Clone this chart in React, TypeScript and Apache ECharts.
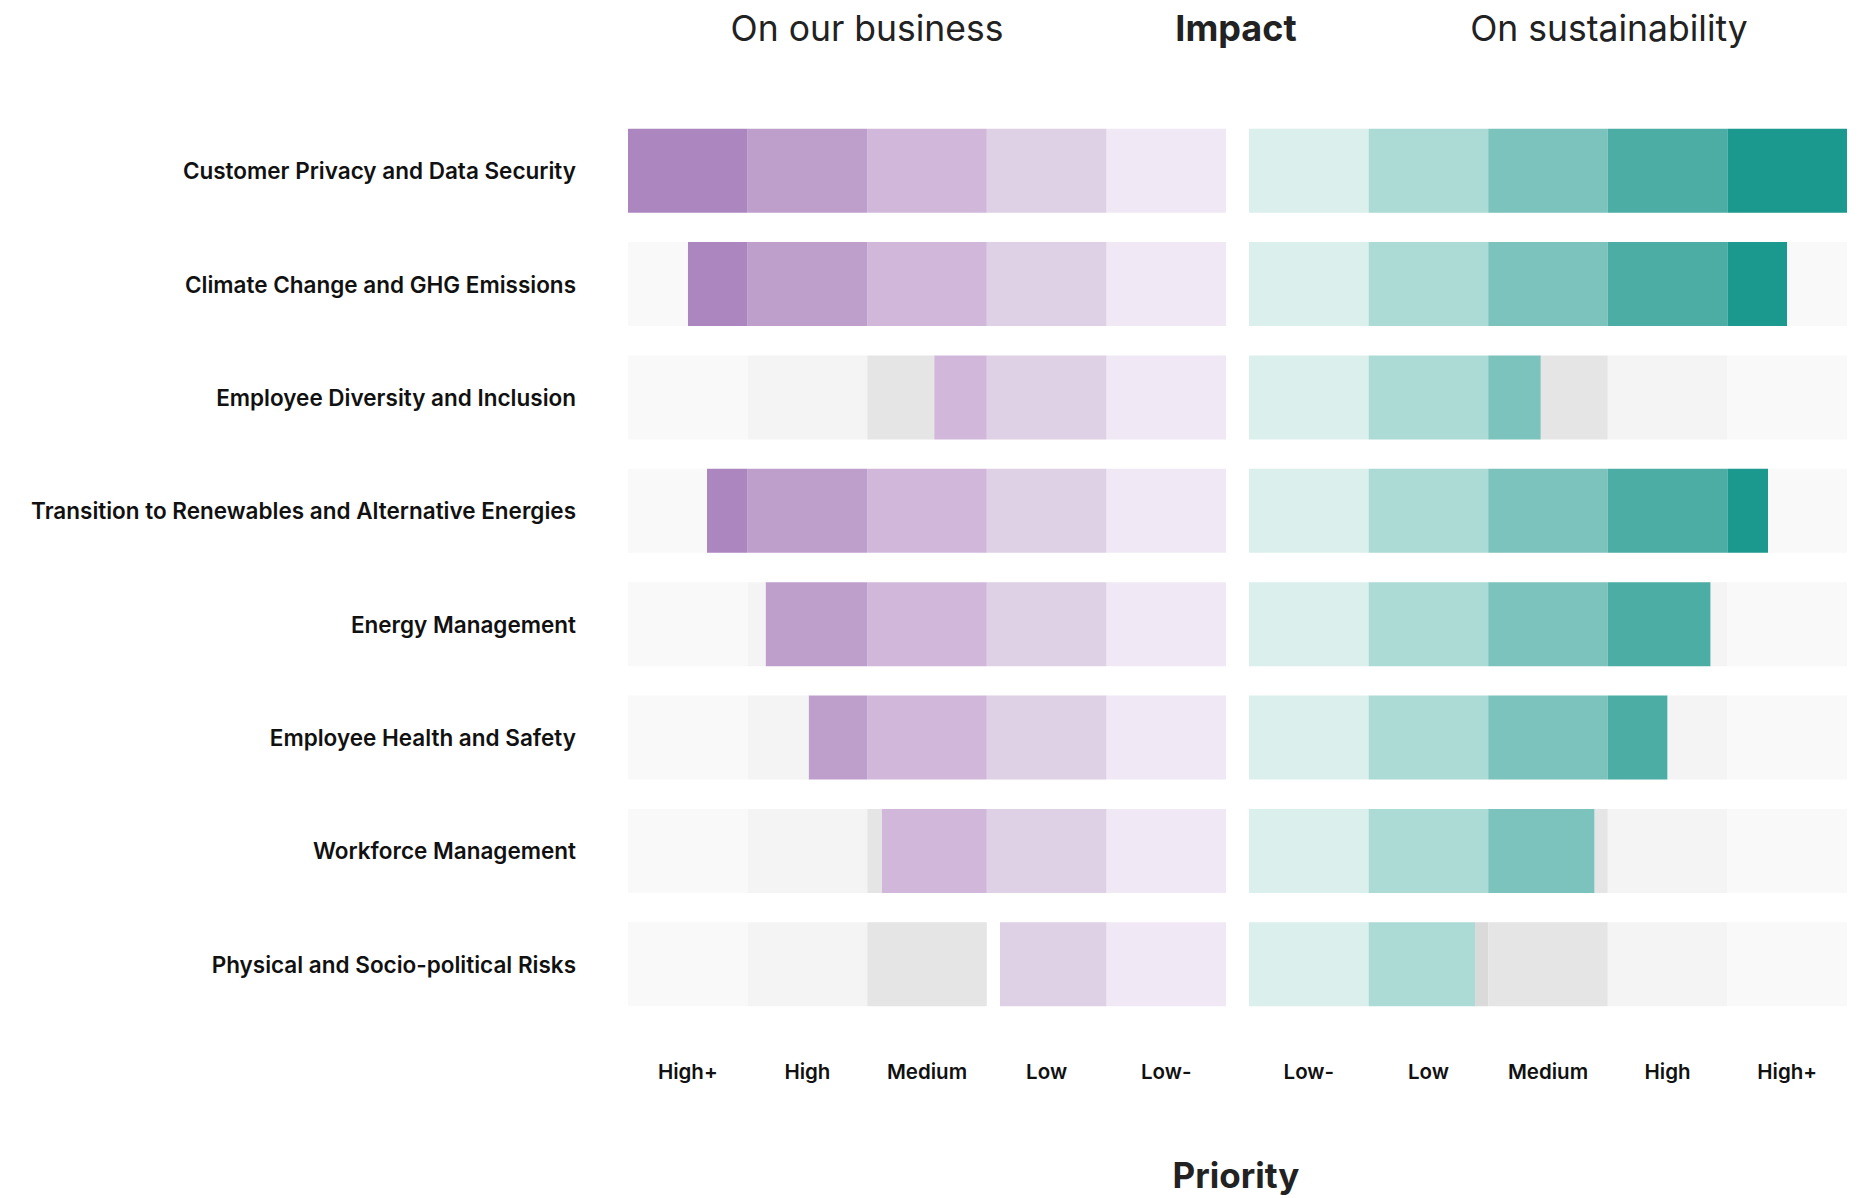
import React, { useEffect, useRef } from "react";
import * as echarts from "echarts";

const topics = [
  "Customer Privacy and Data Security",
  "Climate Change and GHG Emissions",
  "Employee Diversity and Inclusion",
  "Transition to Renewables and Alternative Energies",
  "Energy Management",
  "Employee Health and Safety",
  "Workforce Management",
  "Physical and Socio-political Risks",
];

// priority score on a 0–5 scale (0 = Low- end, 5 = High+ end)
const businessImpact = [5, 4.5, 2.44, 4.34, 3.85, 3.49, 2.88, 1.89];
const sustainabilityImpact = [5, 4.5, 2.44, 4.34, 3.86, 3.5, 2.89, 1.89];

// tick labels as displayed left-to-right
const businessTicks = ["High+", "High", "Medium", "Low", "Low-"];
const sustainabilityTicks = ["Low-", "Low", "Medium", "High", "High+"];

// colours by level, from Low- (level 0) to High+ (level 4)
const purpleLevels = ["#f0e8f5", "#ded0e5", "#d1b8db", "#be9fcc", "#ab86bf"];
const tealLevels = ["#dbefec", "#acdad5", "#7cc2bd", "#4bada4", "#1b998e"];
const businessGreys = ["#f7f7f7", "#ffffff", "#e5e5e5", "#f4f4f4", "#f9f9f9"];
const sustainabilityGreys = ["#f7f7f7", "#dadada", "#e5e5e5", "#f4f4f4", "#f9f9f9"];

const FONT = "Inter";

function panelSeries(values: number[], fills: string[], greys: string[], xIdx: number, yIdx: number, stack: string) {
  const out: any[] = [];
  const part = (v: number, i: number) => Math.min(Math.max(v - i, 0), 1);
  for (let i = 0; i < 5; i++) {
    out.push({
      type: "bar", xAxisIndex: xIdx, yAxisIndex: yIdx, stack, barWidth: 84, silent: true,
      itemStyle: { color: fills[i] },
      data: values.map((v) => +part(v, i).toFixed(4)),
    });
  }
  for (let i = 0; i < 5; i++) {
    out.push({
      type: "bar", xAxisIndex: xIdx, yAxisIndex: yIdx, stack, barWidth: 84, silent: true,
      itemStyle: { color: greys[i] },
      data: values.map((v) => +(1 - part(v, i)).toFixed(4)),
    });
  }
  return out;
}

export default function App() {
  const ref = useRef<HTMLDivElement>(null);
  useEffect(() => {
    if (!ref.current) return;
    const chart = echarts.init(ref.current, undefined, { renderer: "svg" });
    const catLabel = { fontFamily: FONT, fontWeight: 600, color: "#111111" };
    const option: any = {
      animation: false,
      backgroundColor: "#ffffff",
      grid: [
        { left: 628, width: 598, top: 114, height: 907 },
        { left: 1249, width: 598, top: 114, height: 907 },
      ],
      xAxis: [
        { type: "value", gridIndex: 0, min: 0, max: 5, inverse: true, show: false },
        {
          type: "category", gridIndex: 0, position: "bottom", data: businessTicks,
          axisLine: { show: false }, axisTick: { show: false }, splitLine: { show: false },
          axisLabel: { ...catLabel, fontSize: 20.5, margin: 40 },
        },
        { type: "value", gridIndex: 1, min: 0, max: 5, show: false },
        {
          type: "category", gridIndex: 1, position: "bottom", data: sustainabilityTicks,
          axisLine: { show: false }, axisTick: { show: false }, splitLine: { show: false },
          axisLabel: { ...catLabel, fontSize: 20.5, margin: 40 },
        },
      ],
      yAxis: [
        {
          type: "category", gridIndex: 0, data: topics, inverse: true,
          axisLine: { show: false }, axisTick: { show: false },
          axisLabel: { ...catLabel, fontSize: 22.5, margin: 52 },
        },
        {
          type: "category", gridIndex: 1, data: topics, inverse: true,
          axisLine: { show: false }, axisTick: { show: false }, axisLabel: { show: false },
        },
      ],
      series: [
        ...panelSeries(businessImpact, purpleLevels, businessGreys, 0, 0, "business"),
        ...panelSeries(sustainabilityImpact, tealLevels, sustainabilityGreys, 2, 1, "sustain"),
      ],
      graphic: [
        { type: "text", x: 867, y: 28, style: { text: "On our business", fontFamily: FONT, fontSize: 35.5, fontWeight: 400, fill: "#222222", textAlign: "center", textVerticalAlign: "middle" } },
        { type: "text", x: 1236, y: 28, style: { text: "Impact", fontFamily: FONT, fontSize: 36, fontWeight: 700, fill: "#222222", textAlign: "center", textVerticalAlign: "middle" } },
        { type: "text", x: 1609, y: 28, style: { text: "On sustainability", fontFamily: FONT, fontSize: 35.5, fontWeight: 400, fill: "#222222", textAlign: "center", textVerticalAlign: "middle" } },
        { type: "text", x: 1236, y: 1175, style: { text: "Priority", fontFamily: FONT, fontSize: 35, fontWeight: 700, fill: "#222222", textAlign: "center", textVerticalAlign: "middle" } },
      ],
    };
    chart.setOption(option);
    return () => chart.dispose();
  }, []);
  return <div ref={ref} style={{ position: "absolute", left: 0, top: 0, width: 1872, height: 1198 }} />;
}
